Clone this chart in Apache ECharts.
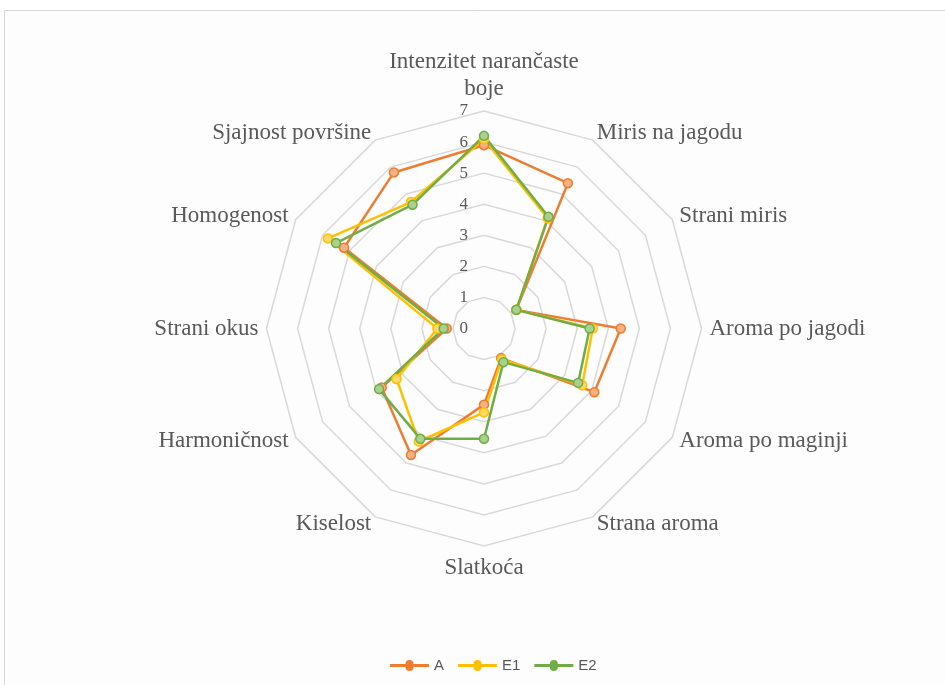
<!DOCTYPE html>
<html>
<head>
<meta charset="utf-8">
<script src="https://cdn.jsdelivr.net/npm/echarts@6/dist/echarts.min.js"></script>
<style>
html,body{margin:0;padding:0;background:#ffffff;}
#chart{width:945px;height:685px;}
</style>
</head>
<body>
<div id="chart"></div>
<script>
// Categories listed clockwise from the top, as in the reference
var categories = ['Intenzitet narančaste\nboje', 'Miris na jagodu', 'Strani miris', 'Aroma po jagodi', 'Aroma po maginji', 'Strana aroma', 'Slatkoća', 'Kiselost', 'Harmoničnost', 'Strani okus', 'Homogenost', 'Sjajnost površine'];
var seriesNames = ['A', 'E1', 'E2'];
var valuesA  = [5.9, 5.4, 1.2, 4.4, 4.1, 1.1, 2.45, 4.7, 3.8, 1.2, 5.2, 5.8];
var valuesE1 = [6.1, 4.1, 1.2, 3.5, 3.65, 1.15, 2.7, 4.2, 3.25, 1.5, 5.8, 4.7];
var valuesE2 = [6.2, 4.15, 1.2, 3.4, 3.5, 1.25, 3.55, 4.1, 3.9, 1.3, 5.5, 4.6];
var axisMax = 7;

var lineColors = ['#ED7D31', '#FFC000', '#70AD47'];
var fillColors = ['#F4B183', '#FFD966', '#A9D18E'];
var allValues = [valuesA, valuesE1, valuesE2];

// ECharts lays indicators counter-clockwise; reorder so they read clockwise
function clockwise(arr) {
  return [arr[0]].concat(arr.slice(1).reverse());
}

var chart = echarts.init(document.getElementById('chart'), null, {renderer: 'canvas'});

var indicators = clockwise(categories).map(function (c, i) {
  var o = {name: c, min: 0, max: axisMax};
  if (i === 0) {
    o.axisLabel = {show: true};
  }
  return o;
});

var legendIcon = 'path://M0,5.5 L15.5,5.5 A4,4 0 0 1 23.5,5.5 L39,5.5 L39,8.5 L23.5,8.5 A4,4 0 0 1 15.5,8.5 L0,8.5 Z';

var option = {
  animation: false,
  backgroundColor: '#ffffff',
  graphic: [{
    type: 'rect',
    shape: {x: 4.5, y: 10.5, width: 1000, height: 1000},
    style: {fill: '#fdfdfd', stroke: '#d9d9d9', lineWidth: 1},
    silent: true,
    z: -10
  }],
  legend: {
    data: seriesNames.map(function (n, i) {
      return {name: n, icon: legendIcon, itemStyle: {color: lineColors[i], borderWidth: 0}};
    }),
    left: 385,
    top: 653,
    itemWidth: 39,
    itemHeight: 14,
    itemGap: 14,
    textStyle: {color: '#595959', fontSize: 15, fontFamily: 'Liberation Sans'}
  },
  radar: {
    center: [484, 328.5],
    radius: 217.5,
    startAngle: 90,
    shape: 'polygon',
    splitNumber: 7,
    indicator: indicators,
    nameGap: 8,
    axisName: {color: '#595959', fontFamily: 'Liberation Serif', fontSize: 23, lineHeight: 27},
    splitLine: {lineStyle: {color: '#d9d9d9', width: 1.5}},
    splitArea: {show: false},
    axisLine: {show: false},
    axisTick: {show: false},
    axisLabel: {show: false, margin: 16, color: '#595959', fontFamily: 'Liberation Serif', fontSize: 17}
  },
  series: [{
    type: 'radar',
    data: seriesNames.map(function (n, i) {
      return {
        name: n,
        value: clockwise(allValues[i]),
        symbol: 'circle',
        symbolSize: 9,
        itemStyle: {color: fillColors[i], borderColor: lineColors[i], borderWidth: 1.5},
        lineStyle: {color: lineColors[i], width: 2.5}
      };
    })
  }]
};
chart.setOption(option);
</script>
</body>
</html>
